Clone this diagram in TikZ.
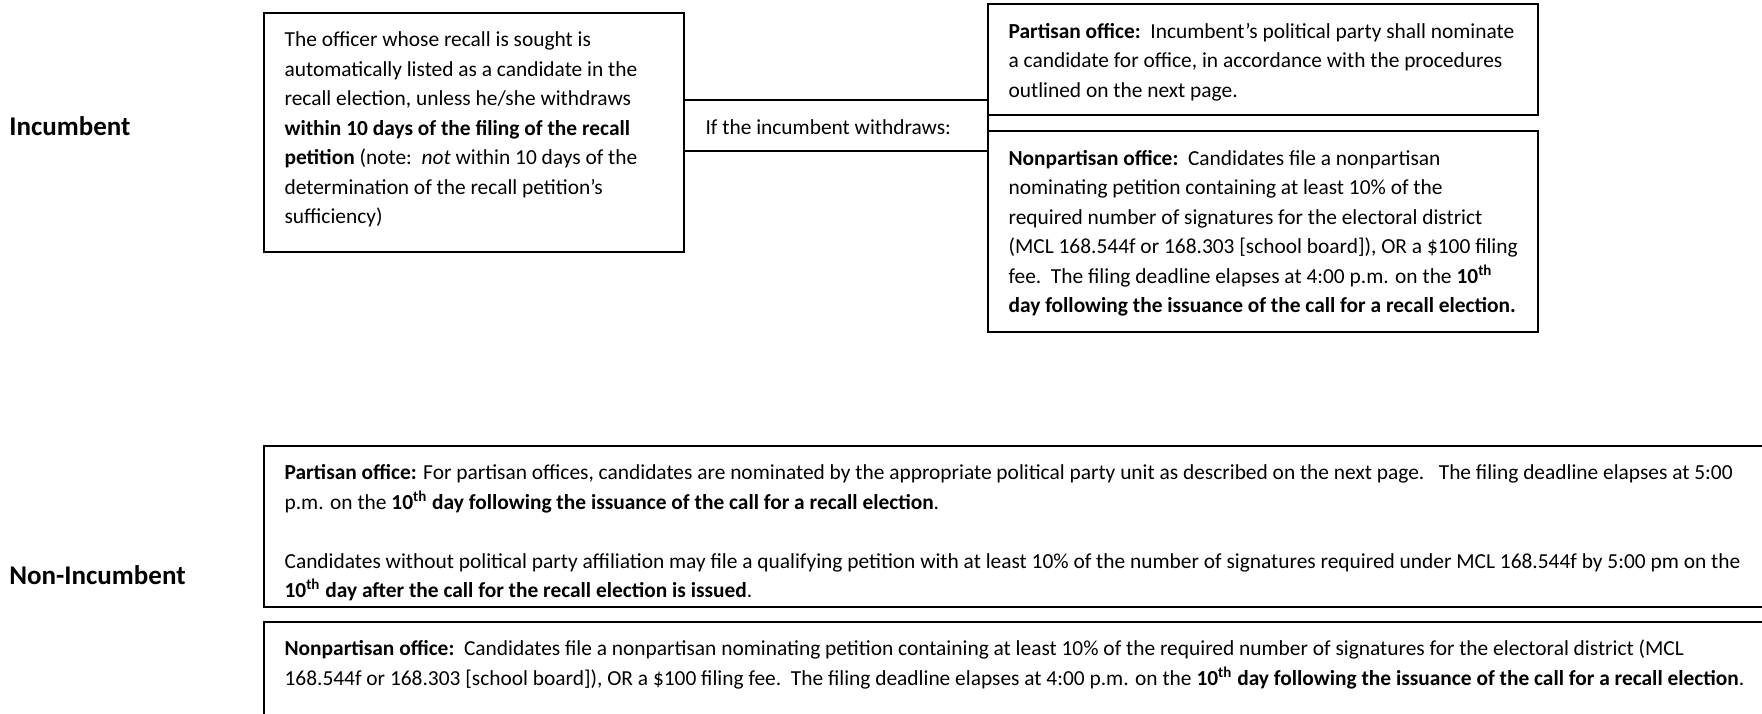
\documentclass[tikz,border=0pt]{standalone}
\usepackage{fontspec}
\setmainfont{Carlito}
\usetikzlibrary{positioning,fit}

\tikzset{
  box/.style={draw, line width=0.8pt, inner sep=0pt},
  txt/.style={anchor=north west, inner sep=0pt, align=left,
    font=\fontsize{10.7}{14.75}\selectfont, execute at begin node=\strut},
  rowlabel/.style={anchor=west, inner sep=0pt, font=\fontsize{13.5}{16}\selectfont\bfseries}
}
\newcommand{\tenth}{\textbf{10\textsuperscript{th}}}

\begin{document}
\begin{tikzpicture}[x=0.5pt, y=-0.5pt]
\useasboundingbox (0,0) rectangle (1762,713);
\clip (0,0) rectangle (1762,713);

% row labels
\node[rowlabel] (inc) at (9,126) {Incumbent};
\node[rowlabel] (noninc) at (9,575) {Non-Incumbent};

% incumbent row
\node[box, fit={(264,13) (684,252)}] (officer) {};
\node[box, fit={(684,100) (988,151)}] (withdraw) {};
\node[box, fit={(988,4) (1538,115)}] (partisanA) {};
\node[box, fit={(988,131) (1538,332)}] (nonpartisanA) {};

\node[txt] (officertxt) at ([shift={(21,19.5)}]officer.north west)
  {The officer whose recall is sought is\\
   automatically listed as a candidate in the\\
   recall election, unless he/she withdraws\\
   \textbf{within 10 days of the filing of the recall}\\
   \textbf{petition} (note:\ \ \textit{not} within 10 days of the\\
   determination of the recall petition’s\\
   sufficiency)};
\node[txt] (withdrawtxt) at ([shift={(22,14.5)}]withdraw.north west)
  {If the incumbent withdraws:};
\node[txt] (partisanAtxt) at ([shift={(21,19.5)}]partisanA.north west)
  {\textbf{Partisan office:}\ \ Incumbent’s political party shall nominate\\
   a candidate for office, in accordance with the procedures\\
   outlined on the next page.};
\node[txt] (nonpartisanAtxt) at ([shift={(21,19.5)}]nonpartisanA.north west)
  {\textbf{Nonpartisan office:}\ \ Candidates file a nonpartisan\\
   nominating petition containing at least 10\% of the\\
   required number of signatures for the electoral district\\
   (MCL 168.544f or 168.303 [school board]), OR a \$100 filing\\
   fee.\ \ The filing deadline elapses at 4:00 p.m. on the \tenth\\
   \textbf{day following the issuance of the call for a recall election.}};

% non-incumbent row
\node[box, fit={(264,446) (1800,607)}] (partisanB) {};
\node[box, fit={(264,622) (1800,760)}] (nonpartisanB) {};

\node[txt] (partisanBtxt) at ([shift={(21,19)}]partisanB.north west)
  {\textbf{Partisan office:} For partisan offices, candidates are nominated by the appropriate political party unit as described on the next page.\ \ \ The filing deadline elapses at 5:00\\
   p.m. on the \textbf{10\textsuperscript{th} day following the issuance of the call for a recall election}.\\[14.75pt]
   Candidates without political party affiliation may file a qualifying petition with at least 10\% of the number of signatures required under MCL 168.544f by 5:00 pm on the\\
   \textbf{10\textsuperscript{th} day after the call for the recall election is issued}.};
\node[txt] (nonpartisanBtxt) at ([shift={(21,18.5)}]nonpartisanB.north west)
  {\textbf{Nonpartisan office:}\ \ Candidates file a nonpartisan nominating petition containing at least 10\% of the required number of signatures for the electoral district (MCL\\
   168.544f or 168.303 [school board]), OR a \$100 filing fee.\ \ The filing deadline elapses at 4:00 p.m. on the \textbf{10\textsuperscript{th} day following the issuance of the call for a recall election}.};
\end{tikzpicture}
\end{document}
